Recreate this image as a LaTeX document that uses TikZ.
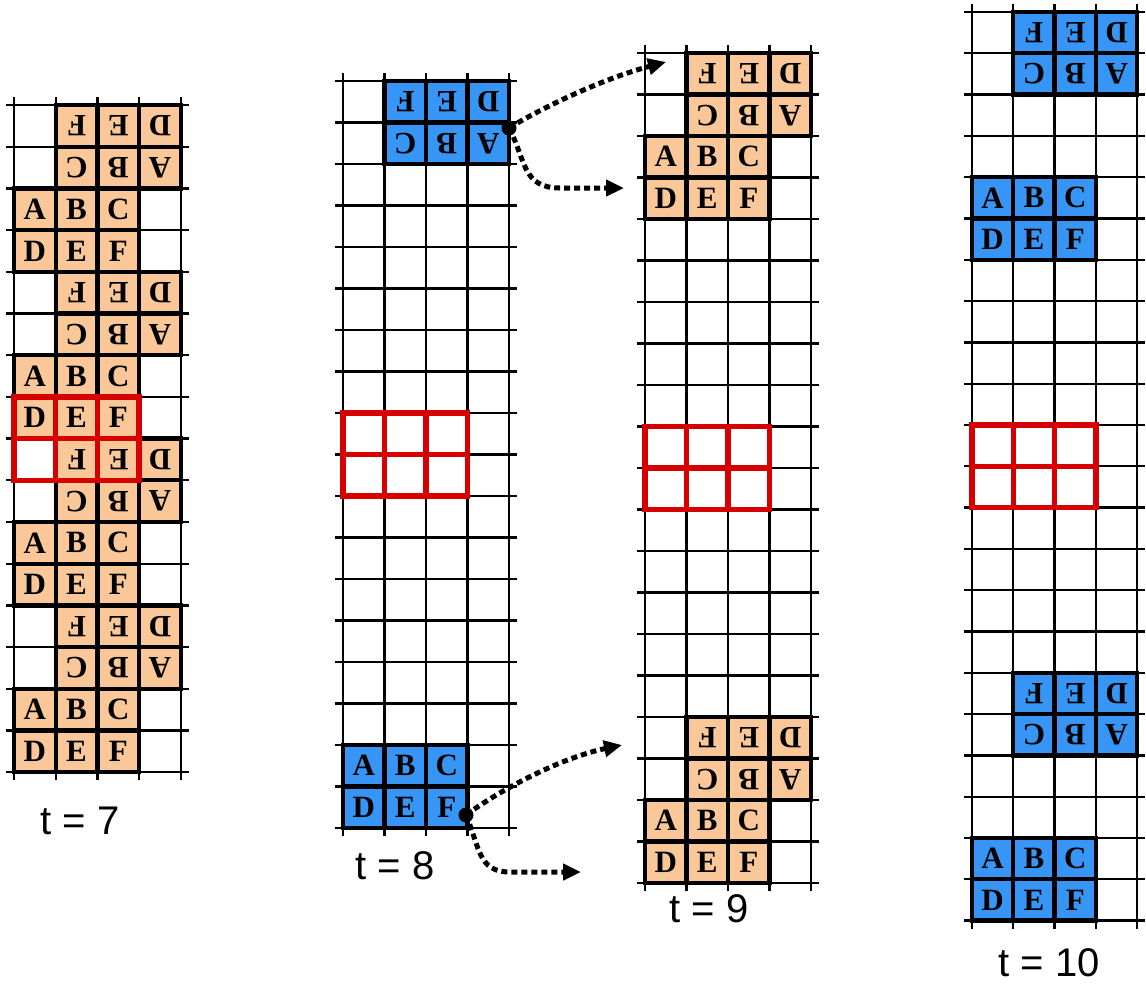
\documentclass[tikz,border=0pt]{standalone}
\usepackage{fontspec}
\setmainfont{Liberation Serif}
\newfontfamily\labfont{Liberation Sans}
\usetikzlibrary{arrows.meta}
\definecolor{cellTan}{RGB}{250,200,152}
\definecolor{cellBlue}{RGB}{55,150,245}
\definecolor{boxRed}{RGB}{215,0,0}
\tikzset{
  gridline/.style={line width=2.3pt,black},
  cellbox/.style={draw=black,line width=4.3pt,inner sep=0pt,outer sep=0pt,
    font=\bfseries\fontsize{31}{31}\selectfont},
  redline/.style={line width=5.5pt,boxRed,line cap=rect},
  dotarrow/.style={line width=5pt,dash pattern=on 6pt off 4pt,
    -{Triangle[length=18pt,width=16pt]}},
  blackdot/.style={circle,fill=black,inner sep=0pt,minimum size=15pt},
  tlabel/.style={font=\labfont\fontsize{40}{40}\selectfont,inner sep=0pt}
}
% grid panel: x0 y0 rows cs
\newcommand\gridpanel[4]{%
  \foreach \i in {0,...,4}{\draw[gridline] ({#1+\i*#4},{#2-8}) -- ({#1+\i*#4},{#2+#3*#4+8});}
  \foreach \j in {0,...,#3}{\draw[gridline] ({#1-8},{#2+\j*#4}) -- ({#1+4*#4+8},{#2+\j*#4});}
}
% upright block: name x0 y0 cs col row colour
\newcommand\upblock[7]{%
  \foreach \L [count=\k from 0] in {A,B,C,D,E,F}{%
    \pgfmathtruncatemacro\cc{mod(\k,3)}%
    \pgfmathtruncatemacro\rr{int(\k/3)}%
    \node[cellbox,fill=#7,minimum size=#4pt] (#1-\L)
      at ({#2+(#5+\cc+0.5)*#4},{#3+(#6+\rr+0.5)*#4}) {\L};
  }%
}
% upside-down block
\newcommand\dnblock[7]{%
  \foreach \L [count=\k from 0] in {A,B,C,D,E,F}{%
    \pgfmathtruncatemacro\cc{mod(\k,3)}%
    \pgfmathtruncatemacro\rr{int(\k/3)}%
    \node[cellbox,fill=#7,minimum size=#4pt,rotate=180] (#1-\L)
      at ({#2+(#5+2-\cc+0.5)*#4},{#3+(#6+1-\rr+0.5)*#4}) {\L};
  }%
}
% red 3x2 frame: x0 y0 cs col row
\newcommand\redframe[5]{%
  \foreach \i in {0,...,3}{\draw[redline] ({#1+(#4+\i)*#3},{#2+#5*#3}) -- ++(0,{2*#3});}
  \foreach \j in {0,1,2}{\draw[redline] ({#1+#4*#3},{#2+(#5+\j)*#3}) -- ++({3*#3},0);}
}
\begin{document}
\begin{tikzpicture}[x=1pt,y=-1pt]
\useasboundingbox (0,0) rectangle (1146,986);
\clip (0,0) rectangle (1146,986);
\fill[white] (0,0) rectangle (1146,986);
% ---- t = 7
\gridpanel{14}{105}{16}{41.7}
\foreach \b in {0,1,2,3}{%
  \dnblock{p7d\b}{14}{105}{41.7}{1}{4*\b}{cellTan}
  \upblock{p7u\b}{14}{105}{41.7}{0}{4*\b+2}{cellTan}
}
\redframe{14}{105}{41.7}{0}{7}
\node[tlabel] (lab7) at (80,821) {t = 7};
% ---- t = 8
\gridpanel{343}{81}{18}{41.5}
\dnblock{p8d}{343}{81}{41.5}{1}{0}{cellBlue}
\upblock{p8u}{343}{81}{41.5}{0}{16}{cellBlue}
\redframe{343}{81}{41.5}{0}{8}
\node[tlabel] (lab8) at (395,866) {t = 8};
% ---- t = 9
\gridpanel{645}{53}{20}{41.5}
\dnblock{p9d0}{645}{53}{41.5}{1}{0}{cellTan}
\upblock{p9u0}{645}{53}{41.5}{0}{2}{cellTan}
\dnblock{p9d1}{645}{53}{41.5}{1}{16}{cellTan}
\upblock{p9u1}{645}{53}{41.5}{0}{18}{cellTan}
\redframe{645}{53}{41.5}{0}{9}
\node[tlabel] (lab9) at (709,909) {t = 9};
% ---- t = 10
\gridpanel{972}{12}{22}{41.3}
\dnblock{p10d0}{972}{12}{41.3}{1}{0}{cellBlue}
\upblock{p10u0}{972}{12}{41.3}{0}{4}{cellBlue}
\dnblock{p10d1}{972}{12}{41.3}{1}{16}{cellBlue}
\upblock{p10u1}{972}{12}{41.3}{0}{20}{cellBlue}
\redframe{972}{12}{41.3}{0}{10}
\node[tlabel] (lab10) at (1049,963) {t = 10};
% ---- arrows
\node[blackdot] (dtop) at (509,128) {};
\node[blackdot] (dbot) at (466,815) {};
\coordinate (tipA) at (666,62);
\coordinate (tipB) at (624,188);
\coordinate (tipC) at (622,745);
\coordinate (tipD) at (581,872);
\draw[dotarrow] (dtop.center) .. controls (545,106) and (605,78) .. (tipA);
\draw[dotarrow] (dtop.center) .. controls (526,160) and (522,188) .. (560,188) -- (tipB);
\draw[dotarrow] (dbot.center) .. controls (500,790) and (560,758) .. (tipC);
\draw[dotarrow] (dbot.center) .. controls (480,848) and (478,872) .. (510,872) -- (tipD);
\end{tikzpicture}
\end{document}
